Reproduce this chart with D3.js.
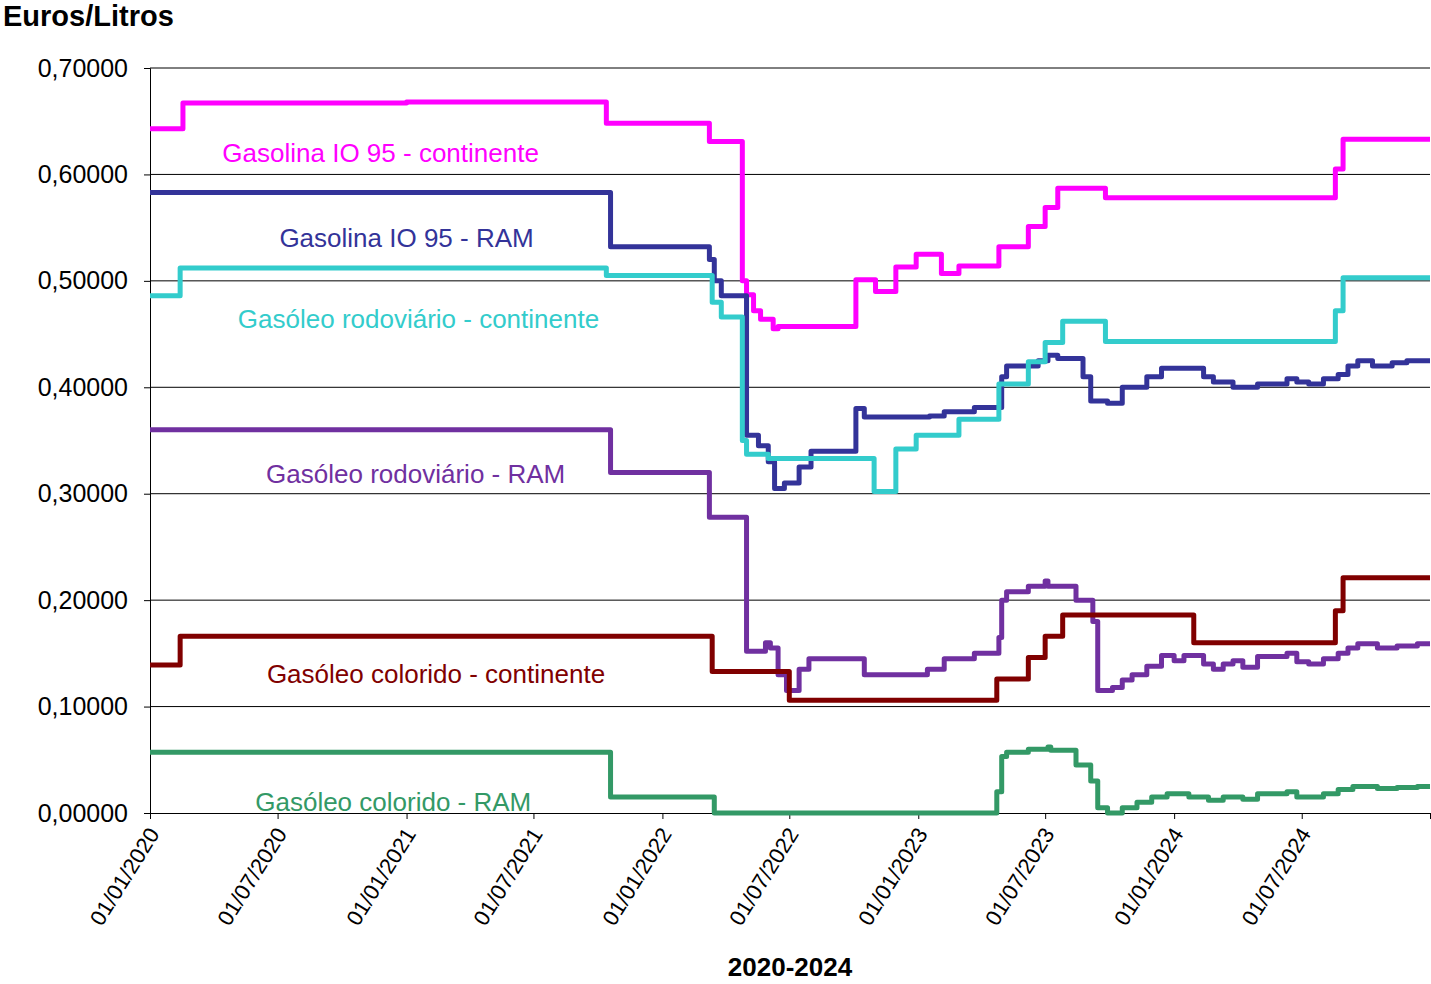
<!DOCTYPE html>
<html>
<head>
<meta charset="utf-8">
<script src="https://cdn.jsdelivr.net/npm/d3@7"></script>
<style>
  body { margin: 0; background: #fff; font-family: Arial, "Liberation Sans", sans-serif; }
</style>
</head>
<body>
<div id="chart"></div>
<script>
// values in euros per litre, each step starts at its date
const gasolinaContinente = [
  ["2020-01-01", 0.643], ["2020-02-17", 0.667], ["2021-01-01", 0.668], ["2021-10-13", 0.648],
  ["2022-03-09", 0.631], ["2022-04-25", 0.500], ["2022-05-01", 0.487], ["2022-05-11", 0.472],
  ["2022-05-21", 0.464], ["2022-06-08", 0.455], ["2022-06-15", 0.457], ["2022-10-04", 0.501],
  ["2022-11-01", 0.490], ["2022-11-30", 0.513], ["2022-12-29", 0.525], ["2023-02-03", 0.507],
  ["2023-02-28", 0.514], ["2023-04-26", 0.532], ["2023-06-07", 0.551], ["2023-07-01", 0.569],
  ["2023-07-19", 0.587], ["2023-09-25", 0.578], ["2024-08-18", 0.605], ["2024-08-29", 0.633],
  ["2024-12-31", 0.633]
];
const gasolinaRAM = [
  ["2020-01-01", 0.583], ["2021-10-19", 0.532], ["2022-03-09", 0.520], ["2022-03-16", 0.500],
  ["2022-03-26", 0.486], ["2022-05-01", 0.355], ["2022-05-18", 0.345], ["2022-06-01", 0.330],
  ["2022-06-10", 0.305], ["2022-06-24", 0.310], ["2022-07-15", 0.325], ["2022-08-01", 0.340],
  ["2022-10-04", 0.380], ["2022-10-16", 0.372], ["2023-01-17", 0.373], ["2023-02-07", 0.377],
  ["2023-03-22", 0.381], ["2023-04-30", 0.410], ["2023-05-07", 0.420], ["2023-06-21", 0.425],
  ["2023-07-05", 0.430], ["2023-07-19", 0.427], ["2023-08-24", 0.410], ["2023-09-04", 0.387],
  ["2023-09-28", 0.385], ["2023-10-19", 0.400], ["2023-11-23", 0.410], ["2023-12-14", 0.418],
  ["2024-02-12", 0.410], ["2024-02-26", 0.405], ["2024-03-25", 0.400], ["2024-04-29", 0.403],
  ["2024-06-10", 0.408], ["2024-06-24", 0.405], ["2024-07-11", 0.403], ["2024-08-01", 0.408],
  ["2024-08-22", 0.412], ["2024-09-05", 0.420], ["2024-09-19", 0.425], ["2024-10-10", 0.420],
  ["2024-11-07", 0.423], ["2024-11-28", 0.425], ["2024-12-31", 0.425]
];
const gasoleoContinente = [
  ["2020-01-01", 0.486], ["2020-02-13", 0.512], ["2021-10-13", 0.505], ["2022-03-13", 0.480],
  ["2022-03-26", 0.466], ["2022-04-25", 0.350], ["2022-05-01", 0.337], ["2022-06-01", 0.333],
  ["2022-10-30", 0.302], ["2022-11-30", 0.342], ["2022-12-29", 0.355], ["2023-02-28", 0.370],
  ["2023-04-26", 0.403], ["2023-06-07", 0.424], ["2023-07-01", 0.442], ["2023-07-26", 0.462],
  ["2023-09-25", 0.443], ["2024-08-18", 0.472], ["2024-08-29", 0.503], ["2024-12-31", 0.503]
];
const gasoleoRAM = [
  ["2020-01-01", 0.360], ["2021-10-19", 0.320], ["2022-03-09", 0.278], ["2022-05-01", 0.152],
  ["2022-05-28", 0.160], ["2022-06-04", 0.155], ["2022-06-15", 0.130], ["2022-06-27", 0.115],
  ["2022-07-15", 0.135], ["2022-07-29", 0.145], ["2022-10-16", 0.130], ["2023-01-14", 0.135],
  ["2023-02-07", 0.145], ["2023-03-22", 0.150], ["2023-04-26", 0.165], ["2023-04-30", 0.200],
  ["2023-05-07", 0.208], ["2023-06-07", 0.213], ["2023-07-01", 0.218], ["2023-07-05", 0.213],
  ["2023-08-14", 0.200], ["2023-09-07", 0.180], ["2023-09-14", 0.115], ["2023-10-05", 0.118],
  ["2023-10-19", 0.125], ["2023-11-02", 0.130], ["2023-11-23", 0.138], ["2023-12-14", 0.148],
  ["2024-01-01", 0.143], ["2024-01-15", 0.148], ["2024-02-12", 0.140], ["2024-02-26", 0.135],
  ["2024-03-11", 0.140], ["2024-03-25", 0.143], ["2024-04-08", 0.137], ["2024-04-29", 0.147],
  ["2024-06-10", 0.150], ["2024-06-24", 0.142], ["2024-07-11", 0.140], ["2024-08-01", 0.145],
  ["2024-08-22", 0.150], ["2024-09-05", 0.155], ["2024-09-19", 0.159], ["2024-10-17", 0.155],
  ["2024-11-14", 0.157], ["2024-12-13", 0.159], ["2024-12-31", 0.159]
];
const coloridoContinente = [
  ["2020-01-01", 0.139], ["2020-02-13", 0.166], ["2022-03-13", 0.133], ["2022-07-01", 0.106],
  ["2023-04-23", 0.126], ["2023-06-07", 0.146], ["2023-07-01", 0.166], ["2023-07-26", 0.186],
  ["2024-01-29", 0.160], ["2024-08-18", 0.190], ["2024-08-29", 0.221], ["2024-12-31", 0.221]
];
const coloridoRAM = [
  ["2020-01-01", 0.057], ["2021-10-19", 0.015], ["2022-03-16", 0.000], ["2023-04-23", 0.020],
  ["2023-04-30", 0.053], ["2023-05-07", 0.057], ["2023-06-07", 0.060], ["2023-07-05", 0.062],
  ["2023-07-09", 0.059], ["2023-08-14", 0.045], ["2023-09-04", 0.030], ["2023-09-14", 0.005],
  ["2023-09-28", 0.000], ["2023-10-19", 0.005], ["2023-11-09", 0.010], ["2023-11-30", 0.015],
  ["2023-12-22", 0.018], ["2024-01-22", 0.015], ["2024-02-19", 0.012], ["2024-03-11", 0.015],
  ["2024-04-08", 0.013], ["2024-04-29", 0.018], ["2024-06-10", 0.020], ["2024-06-24", 0.015],
  ["2024-08-01", 0.018], ["2024-08-22", 0.022], ["2024-09-12", 0.025], ["2024-10-17", 0.023],
  ["2024-11-14", 0.024], ["2024-12-13", 0.025], ["2024-12-31", 0.025]
];

const seriesNames = [
  "Gasolina IO 95 - continente", "Gasolina IO 95 - RAM", "Gasóleo rodoviário - continente",
  "Gasóleo rodoviário - RAM", "Gasóleo colorido - continente", "Gasóleo colorido - RAM"
];
const seriesData = [gasolinaContinente, gasolinaRAM, gasoleoContinente, gasoleoRAM, coloridoContinente, coloridoRAM];
const seriesColors = ["#ff00ff", "#333399", "#33cccc", "#7030a0", "#800000", "#339966"];
// label anchor: [date, value] for the centre/baseline of each series name
const labelSpots = [
  ["2020-11-25", 0.612], ["2021-01-01", 0.532], ["2021-01-18", 0.456],
  ["2021-01-14", 0.310], ["2021-02-12", 0.122], ["2020-12-13", 0.002]
];
const xTickDates = ["2020-01-01", "2020-07-01", "2021-01-01", "2021-07-01", "2022-01-01",
  "2022-07-01", "2023-01-01", "2023-07-01", "2024-01-01", "2024-07-01", "2024-12-31"];
const yTicks = [0, 0.1, 0.2, 0.3, 0.4, 0.5, 0.6, 0.7];

const width = 1431, height = 984;
const margin = {top: 68, right: 1, bottom: 171, left: 150};
const parse = d3.timeParse("%Y-%m-%d");
const fmtDate = d3.timeFormat("%d/%m/%Y");
const fmtY = v => d3.format(".5f")(v).replace(".", ",");

const svg = d3.select("#chart").append("svg").attr("width", width).attr("height", height);

const x = d3.scaleTime()
  .domain([parse("2020-01-01"), parse("2024-12-31")])
  .range([margin.left, width - margin.right]);
const y = d3.scaleLinear().domain([0, 0.7]).range([height - margin.bottom, margin.top]);

// grid
svg.append("g").selectAll("line").data(yTicks.slice(1)).enter().append("line")
  .attr("x1", margin.left).attr("x2", width - margin.right)
  .attr("y1", d => y(d)).attr("y2", d => y(d))
  .attr("stroke", "#000").attr("stroke-width", 1);

// y axis
const yAxis = svg.append("g").attr("transform", `translate(${margin.left},0)`)
  .call(d3.axisLeft(y).tickValues(yTicks).tickFormat(fmtY).tickSize(6).tickPadding(16));
yAxis.selectAll("text").attr("font-size", 25).attr("font-family", "Arial, Liberation Sans").attr("fill", "#000");
yAxis.select(".domain").attr("stroke", "#000");

// x axis
const xAxis = svg.append("g").attr("transform", `translate(0,${y(0)})`)
  .call(d3.axisBottom(x).tickValues(xTickDates.map(parse)).tickFormat(fmtDate).tickSize(6));
xAxis.select(".domain").attr("stroke", "#000");
xAxis.selectAll(".tick text")
  .attr("font-size", 22).attr("font-family", "Arial, Liberation Sans").attr("fill", "#000")
  .attr("text-anchor", "end").attr("dx", 0).attr("dy", 0)
  .attr("transform", "translate(2,16) rotate(-58)")
  .style("display", (d, i) => i === xTickDates.length - 1 ? "none" : null);

// lines
const line = d3.line().x(d => x(parse(d[0]))).y(d => y(d[1])).curve(d3.curveStepAfter);
seriesData.forEach((s, i) => {
  svg.append("path").datum(s).attr("d", line)
    .attr("fill", "none").attr("stroke", seriesColors[i])
    .attr("stroke-width", 5).attr("stroke-linejoin", "round");
});

// series labels
svg.append("g").selectAll("text").data(seriesNames).enter().append("text")
  .attr("x", (d, i) => x(parse(labelSpots[i][0])))
  .attr("y", (d, i) => y(labelSpots[i][1]))
  .attr("text-anchor", "middle")
  .attr("font-size", 26).attr("fill", (d, i) => seriesColors[i])
  .text(d => d);

// titles
svg.append("text").attr("x", 3).attr("y", 26).attr("font-size", 29).attr("font-weight", "bold").text("Euros/Litros");
svg.append("text").attr("x", 790).attr("y", 976).attr("text-anchor", "middle")
  .attr("font-size", 26).attr("font-weight", "bold").text("2020-2024");
</script>
</body>
</html>
